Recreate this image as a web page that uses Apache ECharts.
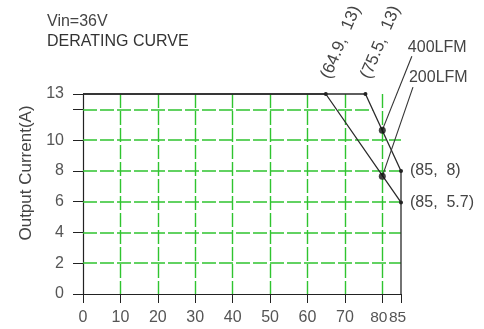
<!DOCTYPE html>
<html><head><meta charset="utf-8">
<script src="https://cdn.jsdelivr.net/npm/echarts@6/dist/echarts.min.js"></script>
<style>html,body{margin:0;padding:0;background:#fff}#c{width:484px;height:329px}</style>
</head><body><div id="c"></div>
<script>
// ---- data ----
const xTickMax = 85;
const yTickMax = 13;
const curve400X = [0, 75.5, 85, 85];
const curve400Y = [13, 13, 8, 0];
const curve200X = [0, 64.9, 85];
const curve200Y = [13, 13, 5.95];
const cornerLabels400 = ['', '(75.5,  13)', '(85,  8)', ''];
const cornerLabels200 = ['', '(64.9,  13)', '(85,  5.7)'];
const hGridValues = [2, 4, 6, 8, 10, 12];
const hGridEnds = [85, 85, 85, 85, 85, 77.4];
const markerX = 80;
const marker400Y = 10.65;
const marker200Y = 7.65;
const leader400End = [87.9, 15.45];
const leader200End = [88.2, 13.45];
const seriesNames = ['400LFM', '200LFM'];
const titleLines = ['Vin=36V', 'DERATING CURVE'];
const yAxisName = 'Output Current(A)';

const FONT = 'Liberation Sans, Arial, sans-serif';
const GREEN = '#2fc42f';
const chart = echarts.init(document.getElementById('c'));

function curveData(xs, ys, labels) {
  return xs.map((x, i) => {
    const lab = labels[i];
    const isRot = lab && ys[i] === 13;
    return {
      value: [x, ys[i]],
      symbolSize: lab ? 4 : 0,
      label: lab ? (isRot ? {
        show: true, formatter: lab, position: 'top', distance: 14,
        rotate: 67, align: 'left', verticalAlign: 'middle',
        fontSize: 17, color: '#444', fontFamily: FONT
      } : {
        show: true, formatter: lab, position: 'right', distance: 7,
        fontSize: 16, color: '#444', fontFamily: FONT
      }) : { show: false }
    };
  });
}

const lineStyle = { color: '#2a2a2a', width: 1.3 };

chart.setOption({
  animation: false,
  backgroundColor: '#fff',
  textStyle: { fontFamily: FONT },
  grid: { left: 83, right: 83, top: 94, bottom: 35, containLabel: false },
  xAxis: {
    type: 'value', min: 0, max: xTickMax, interval: 10,
    axisLine: { show: true, onZero: false, lineStyle: { color: '#222', width: 1.2 } },
    axisTick: { show: true, inside: false, length: 9, lineStyle: { color: '#222' } },
    axisLabel: { fontSize: 16, color: '#555', margin: 16, fontFamily: FONT,
      formatter: v => (v >= 80 ? '{s|' + v + '}' : String(v)),
      rich: { s: { fontSize: 15.5, color: '#555', fontFamily: FONT, padding: [0, 7, 0, 0] } } },
    splitLine: { show: true, showMinLine: false, showMaxLine: false,
      lineStyle: { color: GREEN, type: [14, 3], width: 1.4 } }
  },
  yAxis: {
    type: 'value', min: 0, max: yTickMax, interval: 2,
    axisLine: { show: true, onZero: false, lineStyle: { color: '#222', width: 1.2 } },
    axisTick: { show: true, inside: false, length: 10, lineStyle: { color: '#222' } },
    axisLabel: { fontSize: 16, color: '#555', margin: 19, fontFamily: FONT,
      formatter: v => (v === 12 ? '' : String(v)) },
    splitLine: { show: false }
  },
  series: [
    { type: 'line', name: seriesNames[0], data: curveData(curve400X, curve400Y, cornerLabels400),
      symbol: 'circle', itemStyle: { color: '#222' }, lineStyle, clip: false, z: 5,
      markLine: { silent: true, symbol: 'none', label: { show: false }, z: 1,
        lineStyle: { color: GREEN, type: [14, 3], width: 1.6, opacity: 1 },
        emphasis: { disabled: true },
        data: hGridValues.map((v, i) => [{ coord: [0, v] }, { coord: [hGridEnds[i], v] }]) } },
    { type: 'line', name: seriesNames[1], data: curveData(curve200X, curve200Y, cornerLabels200),
      symbol: 'circle', itemStyle: { color: '#222' }, lineStyle, clip: false, z: 5 },
    { type: 'scatter', data: [[markerX, marker400Y], [markerX, marker200Y]],
      symbolSize: 7, itemStyle: { color: '#111' }, z: 7 }
  ]
});

// titles, axis name, leader lines + series labels (positioned through the chart's own scales)
const g = [
  { type: 'text', left: 47, top: 14, style: { text: titleLines[0], font: '16px ' + FONT, fill: '#444' } },
  { type: 'text', left: 47, top: 34, style: { text: titleLines[1], font: '16px ' + FONT, fill: '#333' } },
  { type: 'text', x: 26, y: 173, rotation: Math.PI / 2,
    style: { text: yAxisName, font: '17px ' + FONT, fill: '#444', align: 'center', verticalAlign: 'middle' } }
];
const leaders = [
  { from: [markerX, marker400Y], to: leader400End, name: seriesNames[0] },
  { from: [markerX, marker200Y], to: leader200End, name: seriesNames[1] }
];
leaders.forEach(l => {
  const a = chart.convertToPixel({ gridIndex: 0 }, l.from);
  const b = chart.convertToPixel({ gridIndex: 0 }, l.to);
  g.push({ type: 'line', z: 6, shape: { x1: a[0], y1: a[1], x2: b[0], y2: b[1] },
    style: { stroke: '#333', lineWidth: 1.1 } });
  g.push({ type: 'text', z: 6, x: b[0] - 4, y: b[1] - 1,
    style: { text: l.name, font: '16px ' + FONT, fill: '#444', align: 'left', verticalAlign: 'bottom' } });
});
chart.setOption({ graphic: g });
</script></body></html>
